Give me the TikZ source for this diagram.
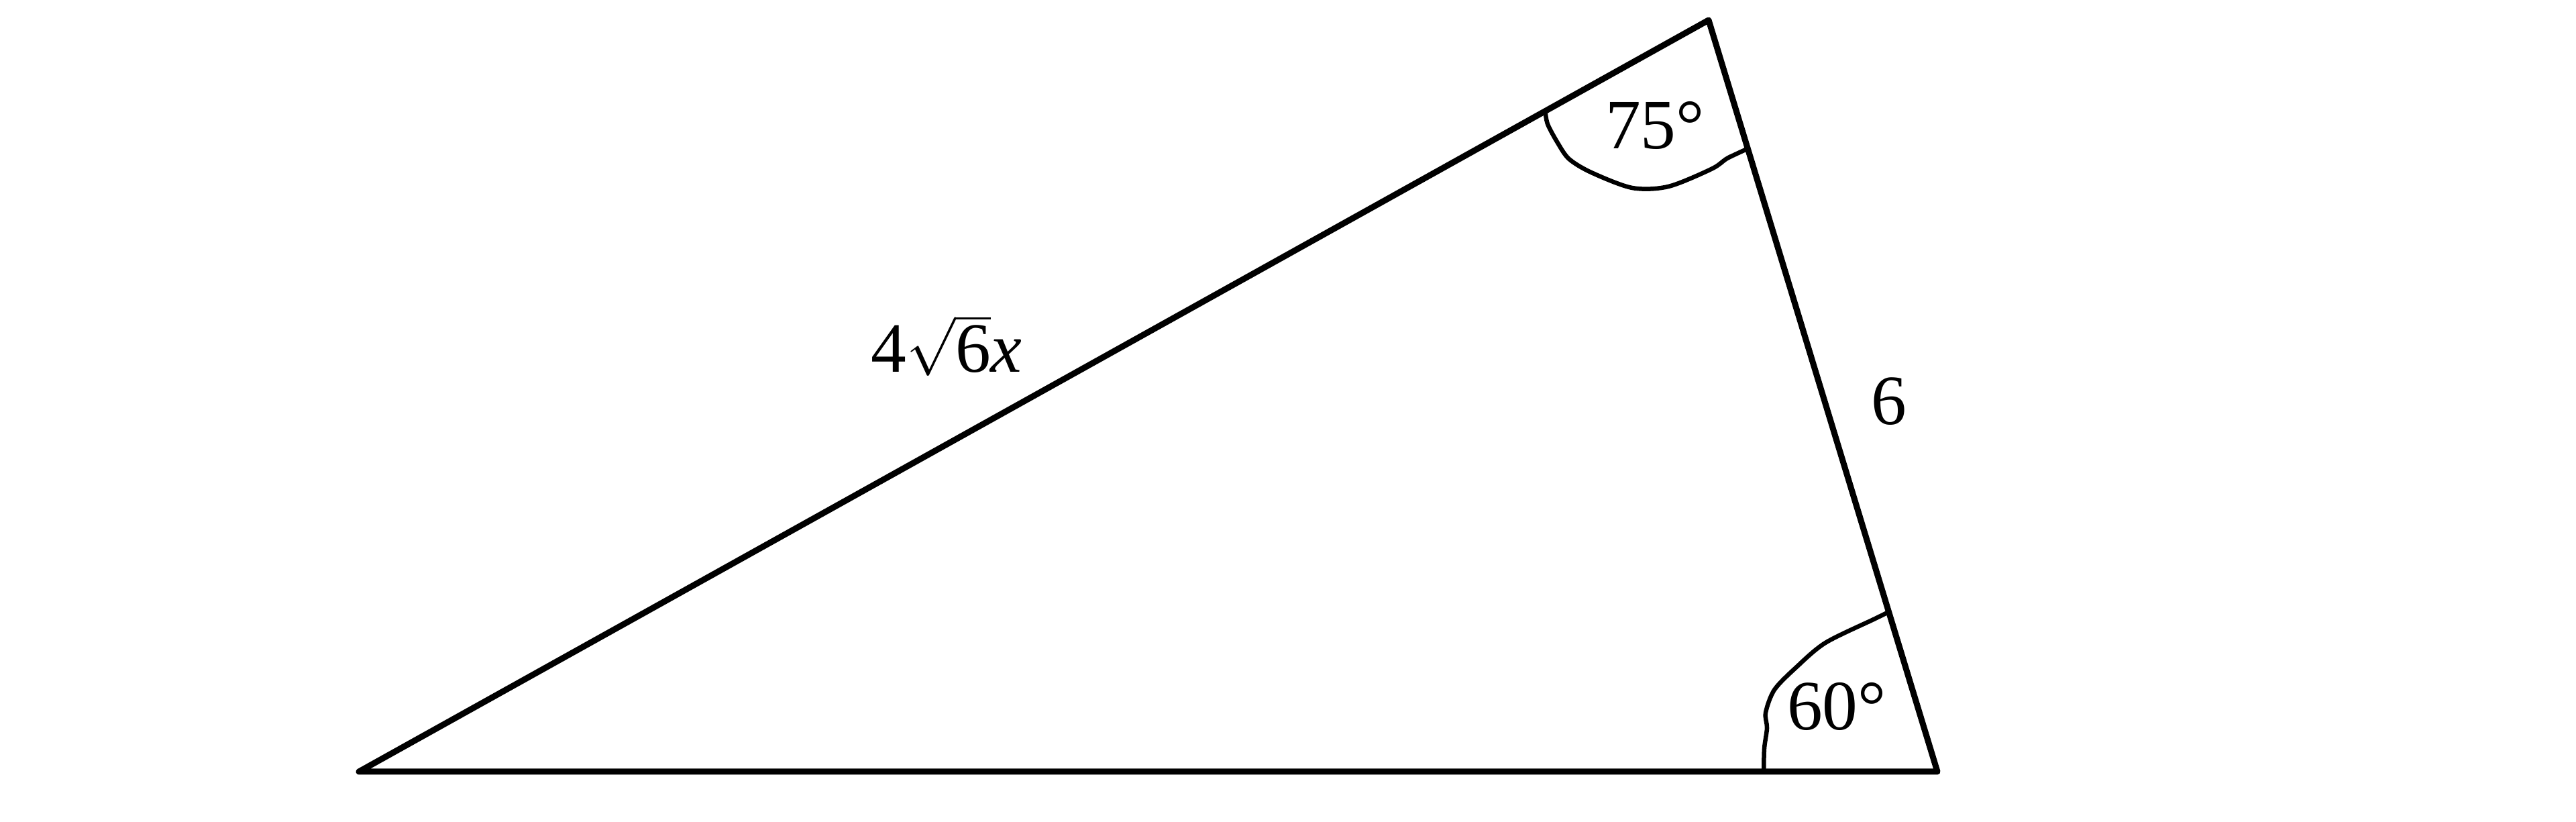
\documentclass[tikz,border=0pt]{standalone}
\usepackage{amsmath}
\usepackage{fontspec}
\setmainfont{Liberation Serif}
\usetikzlibrary{calc}
\begin{document}
\begin{tikzpicture}[
  edge/.style={line width=0.09cm, line join=round, line cap=round},
  anglemark/.style={line width=0.065cm, line cap=round, line join=round},
  lbl/.style={inner sep=0pt, anchor=base, font=\fontsize{30}{36}\selectfont}
]
\useasboundingbox (0,0) rectangle (38.4,12.25);
\coordinate (A) at (5.35,0.75);
\coordinate (B) at (25.47,11.95);
\coordinate (C) at (28.88,0.75);
\draw[edge] (A) -- (B) -- (C) -- cycle;
% angle at B (75 deg)
\coordinate (b1) at ($(A)!0.879!(B)$);
\coordinate (b2) at ($(B)!0.171!(C)$);
\draw[anglemark] plot[smooth, tension=0.5] coordinates {(b1) (23.07,10.40) (23.22,10.12) (23.39,9.88) (23.72,9.68) (24.33,9.45) (24.87,9.47) (25.51,9.73) (25.73,9.88) (25.87,9.95) (b2)};
% angle at C (60 deg)
\coordinate (c1) at ($(A)!0.890!(C)$);
\coordinate (c2) at ($(B)!0.7875!(C)$);
\draw[anglemark] plot[smooth, tension=0.5] coordinates {(c1) (26.30,1.10) (26.34,1.40) (26.32,1.63) (26.45,1.97) (26.77,2.30) (27.21,2.67) (27.93,3.02) (c2)};
% labels
\node[lbl] (lab) at (14.11,6.70) {\(\text{4}\sqrt{\text{6}}\textit{x}\)};
\node[lbl] (lbc) at (28.16,5.92) {6};
\node[lbl] (lb) at (24.67,10.03) {75°};
\node[lbl] (lc) at (27.38,1.37) {60°};
\end{tikzpicture}
\end{document}
